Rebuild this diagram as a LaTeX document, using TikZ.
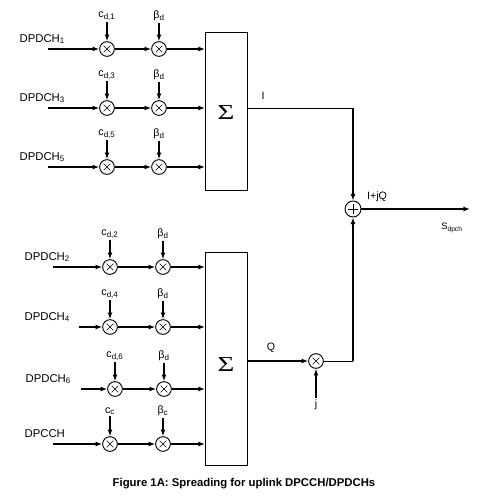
\documentclass[tikz,border=0pt]{standalone}
\usepackage{fontspec}
\setmainfont{Liberation Sans}
\newfontfamily\sumfont{Liberation Serif}
\usetikzlibrary{arrows.meta}

\tikzset{
  sig/.style={line width=1.3pt,-{Latex[length=5pt,width=3.8pt]}},
  wire/.style={line width=0.75pt},
  mult/.style={circle,draw,line width=0.7pt,fill=white,minimum size=11pt,inner sep=0pt,
    path picture={
      \draw[line width=0.5pt] ([shift={(-2.5pt,-2.5pt)}]path picture bounding box.center) -- ([shift={(2.5pt,2.5pt)}]path picture bounding box.center);
      \draw[line width=0.5pt] ([shift={(-2.5pt,2.5pt)}]path picture bounding box.center) -- ([shift={(2.5pt,-2.5pt)}]path picture bounding box.center);}},
  adder/.style={circle,draw,line width=0.7pt,fill=white,minimum size=12pt,inner sep=0pt,
    path picture={
      \draw[line width=0.5pt] ([xshift=-3.5pt]path picture bounding box.center) -- ([xshift=3.5pt]path picture bounding box.center);
      \draw[line width=0.5pt] ([yshift=-3.5pt]path picture bounding box.center) -- ([yshift=3.5pt]path picture bounding box.center);}},
  sumbox/.style={draw,line width=0.75pt,minimum width=31.5pt,inner sep=0pt},
  sigma/.style={font=\sumfont\fontsize{16}{16}\selectfont},
  lab/.style={font=\fontsize{8.5}{10}\selectfont,inner sep=1pt},
  code/.style={font=\fontsize{8}{9}\selectfont,inner sep=1pt}
}

\begin{document}
\begin{tikzpicture}[x=0.75pt,y=-0.75pt]
  \useasboundingbox (0,0) rectangle (479,497);

  % summing blocks
  \node[sumbox,minimum height=118.5pt] (sumI) at (226,111) {};
  \node[sumbox,minimum height=159.75pt] (sumQ) at (226,358.5) {};
  \node[sigma] (sigI) at (226,113) {\scalebox{1.35}[1]{Σ}};
  \node[sigma] (sigQ) at (226,365) {\scalebox{1.35}[1]{Σ}};

  % channel rows: y / name / label x / start x / code mult x / gain mult x / code / gain
  \foreach \y/\ch/\lx/\st/\xa/\xb/\cd/\gn [count=\i] in {
      49/DPDCH\textsubscript{1}/18/48/107/159/{c\textsubscript{d,1}}/{β\textsubscript{d}},
      108/DPDCH\textsubscript{3}/18/48/107/159/{c\textsubscript{d,3}}/{β\textsubscript{d}},
      167/DPDCH\textsubscript{5}/18/48/107/159/{c\textsubscript{d,5}}/{β\textsubscript{d}},
      267/DPDCH\textsubscript{2}/23/53/110/163/{c\textsubscript{d,2}}/{β\textsubscript{d}},
      327/DPDCH\textsubscript{4}/23/79/110/163/{c\textsubscript{d,4}}/{β\textsubscript{d}},
      389/DPDCH\textsubscript{6}/24/81/115/164/{c\textsubscript{d,6}}/{β\textsubscript{d}},
      444/DPCCH/23/53/110/163/{c\textsubscript{c}}/{β\textsubscript{c}}} {
    \node[lab,anchor=base west] (name\i) at (\lx,\y-7) {\ch};
    \coordinate (st\i) at (\st,\y);
    \coordinate (in\i) at (205,\y);
    \node[mult] (ma\i) at (\xa,\y) {};
    \node[mult] (mb\i) at (\xb,\y) {};
    \node[code] (cd\i) at (\xa,\y-33) {\cd};
    \node[code] (gn\i) at (\xb,\y-33) {\gn};
    \draw[sig] (st\i) -- (ma\i);
    \draw[sig] (ma\i) -- (mb\i);
    \draw[sig] (mb\i) -- (in\i);
    \draw[sig] (cd\i) -- (ma\i);
    \draw[sig] (gn\i) -- (mb\i);
  }

  % I and Q branches
  \coordinate (Icorner) at (353,108);
  \coordinate (Qcorner) at (353,361);
  \coordinate (out) at (470,209);
  \node[adder] (add) at (353,209) {};
  \node[mult] (mj) at (316,361) {};
  \node[code] (jlab) at (316,405) {j};

  \draw[wire] (sumI.east |- Icorner) -- (Icorner);
  \draw[sig] (Icorner) -- (add);
  \draw[sig] (sumQ.east |- mj) -- (mj);
  \draw[sig] (jlab) -- (mj);
  \draw[wire] (mj) -- (Qcorner);
  \draw[sig] (Qcorner) -- (add);
  \draw[sig] (add) -- (out);

  \node[code] (Ilab) at (263,96) {I};
  \node[code] (Qlab) at (271,348) {Q};
  \node[code] (IQlab) at (377,197) {I+jQ};
  \node[code] (Slab) at (452,228) {\fontsize{7}{8}\selectfont S\textsubscript{dpch}};

  % caption
  \node (caption) at (244,484) {\fontsize{8.5}{10}\selectfont\bfseries Figure 1A: Spreading for uplink DPCCH/DPDCHs};
\end{tikzpicture}
\end{document}
